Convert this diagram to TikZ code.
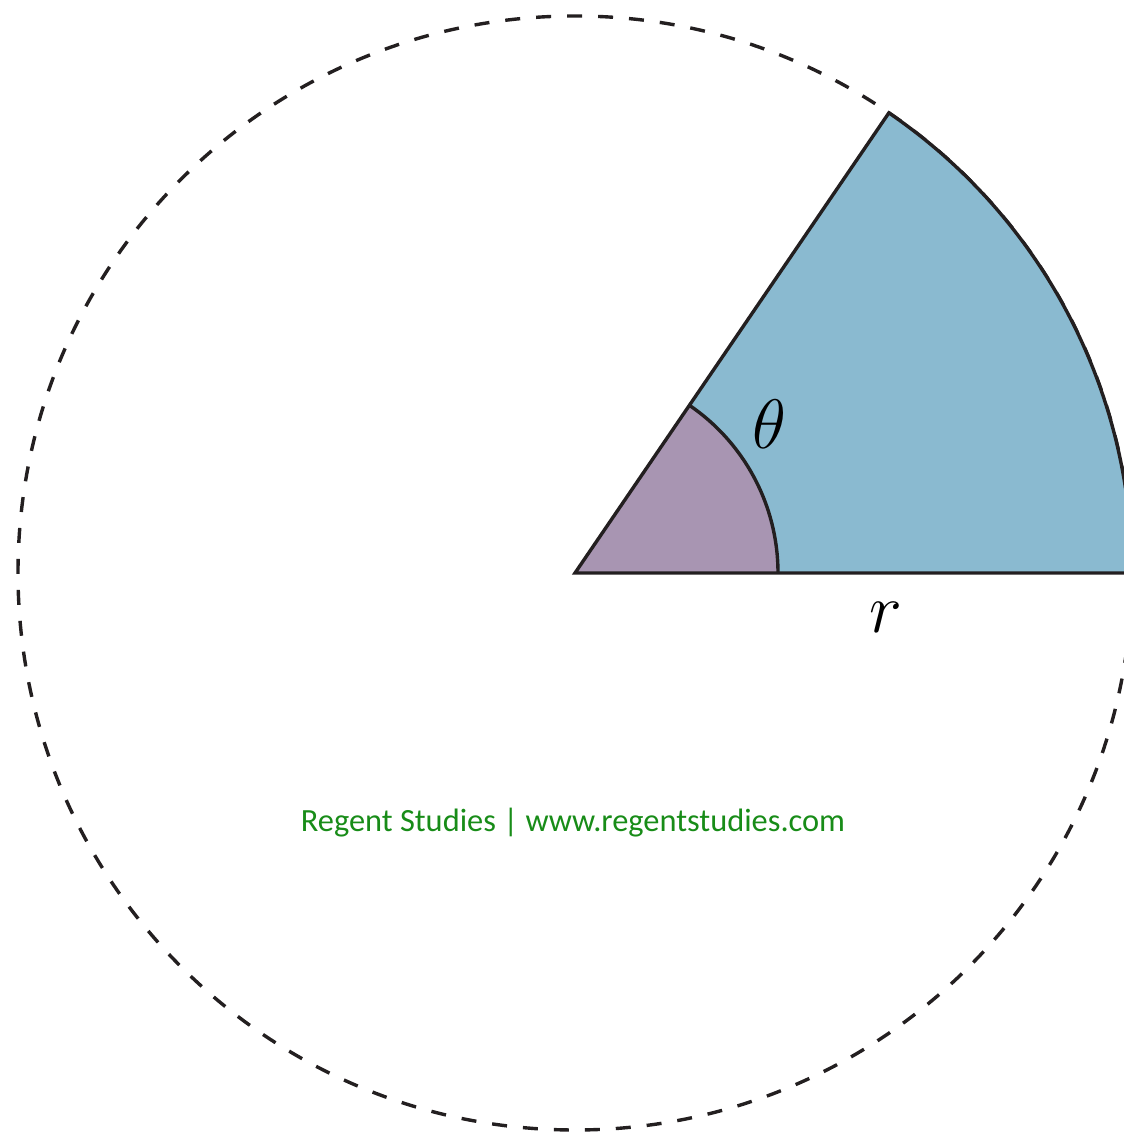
\RequirePackage{fix-cm}
\documentclass[tikz,border=0pt]{standalone}
\usepackage{fontspec}
\newfontfamily\wmfont{Carlito}
\definecolor{sectorblue}{RGB}{138,186,208}
\definecolor{sectorpurple}{RGB}{168,149,178}
\definecolor{edge}{RGB}{35,31,32}
\definecolor{wmgreen}{RGB}{24,140,24}
\tikzset{
  outline/.style={draw=edge, line width=1.7pt, line join=miter},
  guide/.style={draw=edge, line width=1.7pt, dash pattern=on 7.5pt off 8pt},
  mathlabel/.style={font=\fontsize{35}{40}\selectfont, inner sep=0pt},
}
\begin{document}
\begin{tikzpicture}[x=0.5pt,y=0.5pt]
\useasboundingbox (0,0) rectangle (1124,1135);
\clip (0,0) rectangle (1124,1135);
\coordinate (O) at (575,562);
\def\R{557}
\def\Ri{203}
\def\Ang{55.7}
% dashed circle
\draw[guide] (O) circle[radius=\R];
% big sector
\fill[sectorblue] (O) -- ++(0:\R) arc[start angle=0,end angle=\Ang,radius=\R] -- cycle;
% small sector
\fill[sectorpurple] (O) -- ++(0:\Ri) arc[start angle=0,end angle=\Ang,radius=\Ri] -- cycle;
% outlines
\draw[outline] (O) ++(0:\Ri) arc[start angle=0,end angle=\Ang,radius=\Ri];
\draw[outline] (O) -- ++(0:\R) arc[start angle=0,end angle=\Ang,radius=\R] -- cycle;
% labels
\node[mathlabel] (theta) at (769,711) {$\theta$};
\node[mathlabel] (rlab) at (886,518) {$r$};
\node[font=\wmfont\fontsize{16.2}{19}\selectfont, text=wmgreen, anchor=base, inner sep=0pt] (wm) at (573,303) {Regent Studies | www.regentstudies.com};
\end{tikzpicture}
\end{document}
